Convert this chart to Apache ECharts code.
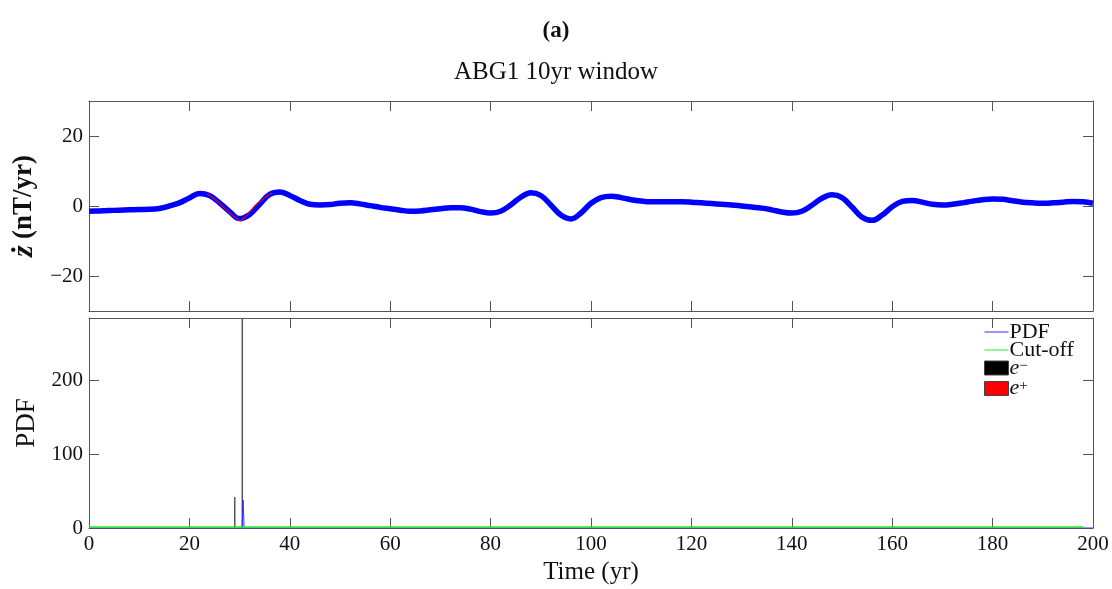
<!DOCTYPE html>
<html>
<head>
<meta charset="utf-8">
<script src="https://cdn.jsdelivr.net/npm/echarts@6/dist/echarts.min.js"></script>
<style>
  html, body { margin: 0; padding: 0; background: #fff; }
  #chart { width: 1112px; height: 589px; }
</style>
</head>
<body>
<div id="chart"></div>
<script>
// Secular-variation series (nT/yr) sampled every 2 years
const years = [0,2,4,6,8,10,12,14,16,18,20,22,24,26,28,30,32,34,36,38,40,42,44,46,48,50,52,54,56,58,60,62,64,66,68,70,72,74,76,78,80,82,84,86,88,90,92,94,96,98,100,102,104,106,108,110,112,114,116,118,120,122,124,126,128,130,132,134,136,138,140,142,144,146,148,150,152,154,156,158,160,162,164,166,168,170,172,174,176,178,180,182,184,186,188,190,192,194,196,198,200];
const zdot = [-1.5,-1.4,-1.3,-1.2,-1.1,-1.0,-0.95,-0.7,0.0,0.9,2.3,3.6,3.0,0.9,-1.6,-3.6,-2.4,0.5,3.3,4.0,3.0,1.6,0.5,0.3,0.4,0.8,0.9,0.6,0.1,-0.4,-0.8,-1.2,-1.5,-1.4,-1.1,-0.8,-0.5,-0.5,-0.9,-1.6,-2.0,-1.5,0.3,2.5,3.8,3.0,0.3,-2.6,-3.7,-2.0,0.8,2.4,2.8,2.4,1.8,1.4,1.2,1.2,1.2,1.2,1.1,0.9,0.7,0.5,0.3,0.0,-0.3,-0.6,-1.1,-1.7,-2.0,-1.5,0.2,2.2,3.2,2.4,-0.3,-3.2,-4.1,-2.6,-0.2,1.3,1.6,1.1,0.5,0.3,0.5,0.9,1.4,1.8,2.0,1.9,1.5,1.1,0.9,0.8,0.9,1.1,1.3,1.2,0.8];

// Detected jerk segment (red)
const jerkYears = [23.5, 25, 27, 29, 30.2, 31.5, 33, 35, 36.5];
const jerkVals  = [3.5, 2.0, -0.6, -3.2, -4.3, -2.6, 0.0, 2.4, 3.8];

// PDF of jerk occurrence times
const pdfYears = [0, 30.5, 30.7, 30.9, 200];
const pdfVals  = [0, 0, 38, 0, 0];

// Cut-off level
const cutYears = [0, 198];
const cutVals  = [1.2, 1.2];

// Negative-jerk spikes (e-)
const eMinusYears = [29.2, 30.7];
const eMinusVals  = [42, 284];

// Positive-jerk spikes (e+): none in this window
const ePlusYears = [];
const ePlusVals  = [];

const topYTicks = [-20, 0, 20];
const botYTicks = [0, 100, 200];

const pairs = (xs, ys) => xs.map((x, i) => [x, ys[i]]);

const FONT = '"Liberation Serif", "DejaVu Serif", serif';
const FRAME = '#555';
const PDF_BLUE = '#3030ff';
const CUT_GREEN = '#22ee22';

function xAxisDef(grid, pos, labels, extra) {
  return Object.assign({
    type: 'value', gridIndex: grid, position: pos, min: 0, max: 200, interval: 20,
    axisLine: { show: true, onZero: false, lineStyle: { color: FRAME, width: 1 } },
    axisTick: { show: true, inside: true, length: 10, lineStyle: { color: FRAME } },
    axisLabel: { show: labels, color: '#111', fontFamily: FONT, fontSize: 21, margin: 6 },
    splitLine: { show: false }
  }, extra || {});
}
function yAxisDef(grid, pos, labels, min, max, ticks, extra) {
  return Object.assign({
    type: 'value', gridIndex: grid, position: pos, min: min, max: max,
    axisLine: { show: true, onZero: false, lineStyle: { color: FRAME, width: 1 } },
    axisTick: { show: true, inside: true, length: 10, customValues: ticks, lineStyle: { color: FRAME } },
    axisLabel: { show: labels, customValues: ticks, color: '#111', fontFamily: FONT, fontSize: 21, margin: 6,
      formatter: v => String(v).replace('-', '\u2212') },
    splitLine: { show: false }
  }, extra || {});
}

const chart = echarts.init(document.getElementById('chart'), null, { renderer: 'canvas' });

chart.setOption({
  animation: false,
  backgroundColor: '#fff',
  title: [
    { text: '(a)', left: 'center', top: 15, textStyle: { fontFamily: FONT, fontWeight: 'bold', fontSize: 23, color: '#111' } },
    { text: 'ABG1 10yr window', left: 'center', top: 55, textStyle: { fontFamily: FONT, fontWeight: 'normal', fontSize: 25, color: '#111' } }
  ],
  grid: [
    { left: 89, top: 101, width: 1004, height: 210 },
    { left: 89, top: 318, width: 1004, height: 210 }
  ],
  xAxis: [
    xAxisDef(0, 'bottom', false),
    xAxisDef(0, 'top', false),
    xAxisDef(1, 'bottom', true, { name: 'Time (yr)', nameLocation: 'middle', nameGap: 32,
      nameTextStyle: { fontFamily: FONT, fontSize: 25, color: '#111' } }),
    xAxisDef(1, 'top', false)
  ],
  yAxis: [
    yAxisDef(0, 'left', true, -30, 30, topYTicks, {
      name: '{b|\u017C} {n|(nT/yr)}', nameLocation: 'middle', nameGap: 41,
      nameTextStyle: { fontFamily: FONT, fontSize: 26, color: '#111',
        rich: { b: { fontFamily: FONT, fontSize: 30, fontWeight: 'bold', fontStyle: 'italic', color: '#111' },
                n: { fontFamily: FONT, fontSize: 27, fontWeight: 'bold', color: '#111' } } }
    }),
    yAxisDef(0, 'right', false, -30, 30, topYTicks),
    yAxisDef(1, 'left', true, 0, 284, botYTicks, {
      name: 'PDF', nameLocation: 'middle', nameGap: 46,
      nameTextStyle: { fontFamily: FONT, fontSize: 27, color: '#111' }
    }),
    yAxisDef(1, 'right', false, 0, 284, botYTicks)
  ],
  legend: {
    orient: 'vertical', left: 984, top: 321, itemWidth: 24, itemHeight: 14, itemGap: -4,
    padding: 0, selectedMode: false,
    textStyle: { fontFamily: FONT, fontSize: 22, lineHeight: 19, color: '#111', padding: [0, 0, 0, -4],
      rich: { e: { fontFamily: FONT, fontSize: 22, lineHeight: 19, fontStyle: 'italic', color: '#111' },
              s: { fontFamily: FONT, fontSize: 15, lineHeight: 19, color: '#111', verticalAlign: 'top', padding: [0, 0, 8, 0] } } },
    formatter: name => name === 'e-' ? '{e|e}{s|\u2212}' : name === 'e+' ? '{e|e}{s|+}' : name,
    data: [
      { name: 'PDF', itemStyle: { opacity: 0 }, lineStyle: { color: PDF_BLUE, width: 1 } },
      { name: 'Cut-off', itemStyle: { opacity: 0 }, lineStyle: { color: CUT_GREEN, width: 1 } },
      { name: 'e-', icon: 'rect', itemStyle: { color: '#000', borderColor: '#444', borderWidth: 1 } },
      { name: 'e+', icon: 'rect', itemStyle: { color: '#ff0000', borderColor: '#444', borderWidth: 1 } }
    ]
  },
  series: [
    {
      name: 'zdot', type: 'line', xAxisIndex: 0, yAxisIndex: 0, data: pairs(years, zdot),
      smooth: 0.4, showSymbol: false, symbol: 'none',
      lineStyle: { color: '#0000ff', width: 5.5 }, z: 2
    },
    {
      name: 'jerk', type: 'line', xAxisIndex: 0, yAxisIndex: 0, data: pairs(jerkYears, jerkVals),
      showSymbol: false, symbol: 'none',
      lineStyle: { color: 'rgba(255,0,0,0.85)', width: 1.2 }, z: 3
    },
    {
      name: 'e-', type: 'bar', xAxisIndex: 2, yAxisIndex: 2, data: pairs(eMinusYears, eMinusVals),
      barWidth: 1.5, itemStyle: { color: '#555' }, z: 2
    },
    {
      name: 'e+', type: 'bar', xAxisIndex: 2, yAxisIndex: 2, data: pairs(ePlusYears, ePlusVals),
      barWidth: 1.5, itemStyle: { color: '#ff0000' }, z: 2
    },
    {
      name: 'PDF', type: 'line', xAxisIndex: 2, yAxisIndex: 2, data: pairs(pdfYears, pdfVals),
      showSymbol: false, symbol: 'none',
      lineStyle: { color: PDF_BLUE, width: 1 }, itemStyle: { color: PDF_BLUE }, z: 3
    },
    {
      name: 'Cut-off', type: 'line', xAxisIndex: 2, yAxisIndex: 2, data: pairs(cutYears, cutVals),
      showSymbol: false, symbol: 'none',
      lineStyle: { color: CUT_GREEN, width: 1.5 }, itemStyle: { color: CUT_GREEN }, z: 4
    }
  ]
});
</script>
</body>
</html>
